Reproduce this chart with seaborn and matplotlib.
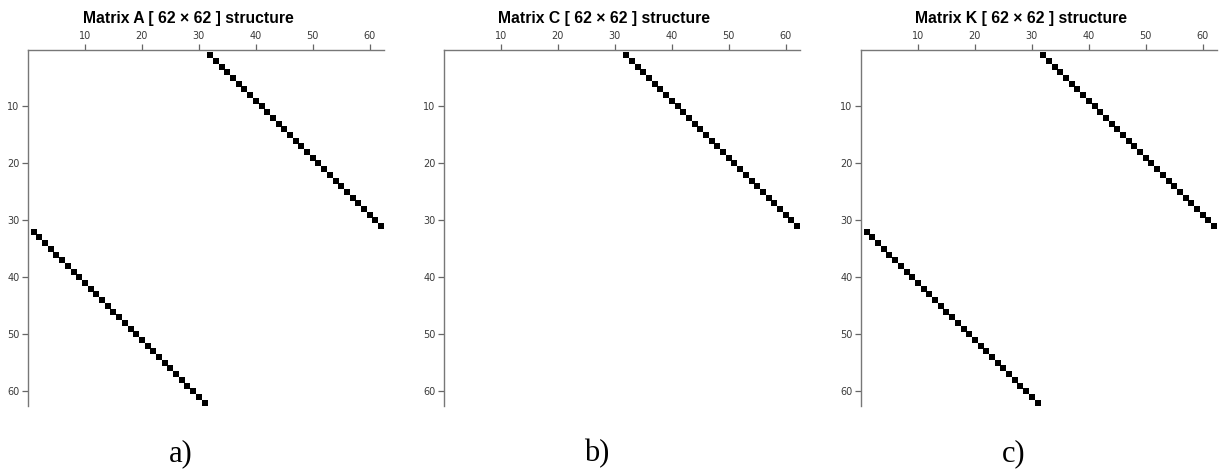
import matplotlib
matplotlib.use("Agg")
import matplotlib.pyplot as plt
import seaborn as sns
import pandas as pd

sns.set_theme(style="ticks")
plt.rcParams['font.family'] = ['Liberation Sans', 'DejaVu Sans']

N = 62
# nonzero positions (row, column), 1-based
upper_rows = [1, 2, 3, 4, 5, 6, 7, 8, 9, 10, 11, 12, 13, 14, 15, 16, 17, 18, 19, 20,
              21, 22, 23, 24, 25, 26, 27, 28, 29, 30, 31]
upper_cols = [32, 33, 34, 35, 36, 37, 38, 39, 40, 41, 42, 43, 44, 45, 46, 47, 48, 49, 50, 51,
              52, 53, 54, 55, 56, 57, 58, 59, 60, 61, 62]
lower_rows = [32, 33, 34, 35, 36, 37, 38, 39, 40, 41, 42, 43, 44, 45, 46, 47, 48, 49, 50, 51,
              52, 53, 54, 55, 56, 57, 58, 59, 60, 61, 62]
lower_cols = [1, 2, 3, 4, 5, 6, 7, 8, 9, 10, 11, 12, 13, 14, 15, 16, 17, 18, 19, 20,
              21, 22, 23, 24, 25, 26, 27, 28, 29, 30, 31]

A_rows = upper_rows + lower_rows
A_cols = upper_cols + lower_cols
C_rows = upper_rows
C_cols = upper_cols
K_rows = upper_rows + lower_rows
K_cols = upper_cols + lower_cols

names = ["A", "C", "K"]
panel_labels = ["a)", "b)", "c)"]
tick_values = [10, 20, 30, 40, 50, 60]

W, H = 1224, 470
fig = plt.figure(figsize=(W / 100, H / 100), dpi=100)

lefts_px = [28, 444, 861]
ax_w_px = 356
ax_top_px = 49.5
ax_h_px = 356

datasets = [(A_rows, A_cols), (C_rows, C_cols), (K_rows, K_cols)]
for i, (rows, cols) in enumerate(datasets):
    ax = fig.add_axes([lefts_px[i] / W, 1 - (ax_top_px + ax_h_px) / H,
                       ax_w_px / W, ax_h_px / H])
    df = pd.DataFrame({"row": rows, "col": cols})
    sns.scatterplot(data=df, x="col", y="row", marker="s", s=22, color="black",
                    linewidth=0, ax=ax, legend=False)
    ax.set_xlim(0, 62.5)
    ax.set_ylim(62.5, 0)
    ax.set_xlabel("")
    ax.set_ylabel("")
    ax.set_xticks(tick_values)
    ax.set_yticks(tick_values)
    ax.xaxis.set_ticks_position("top")
    ax.xaxis.set_label_position("top")
    ax.yaxis.set_ticks_position("left")
    ax.tick_params(axis="both", which="major", length=4, width=0.9, color="#666666",
                   labelsize=7, labelcolor="#3a3a3a", pad=2, direction="out")
    for lab in ax.get_xticklabels() + ax.get_yticklabels():
        lab.set_family(["DejaVu Sans"])
    for s in ["right", "bottom"]:
        ax.spines[s].set_visible(False)
    for s in ["top", "left"]:
        ax.spines[s].set_visible(True)
        ax.spines[s].set_color("#777777")
        ax.spines[s].set_linewidth(1.0)
    ax.set_facecolor("white")
    ax.grid(False)
    ax.set_title(f"Matrix {names[i]} [ {N} \u00d7 {N} ] structure", fontsize=11.3,
                 fontweight="bold", color="black", x=0.5 - 18 / ax_w_px, y=1.0, pad=19)
    fig.text((lefts_px[i] + ax_w_px / 2 - 25) / W, 1 - 454 / H, panel_labels[i],
             fontsize=22, family=["Liberation Serif", "DejaVu Serif"], color="black",
             ha="center", va="center")

fig.savefig("out.png", dpi=100, facecolor="white")
